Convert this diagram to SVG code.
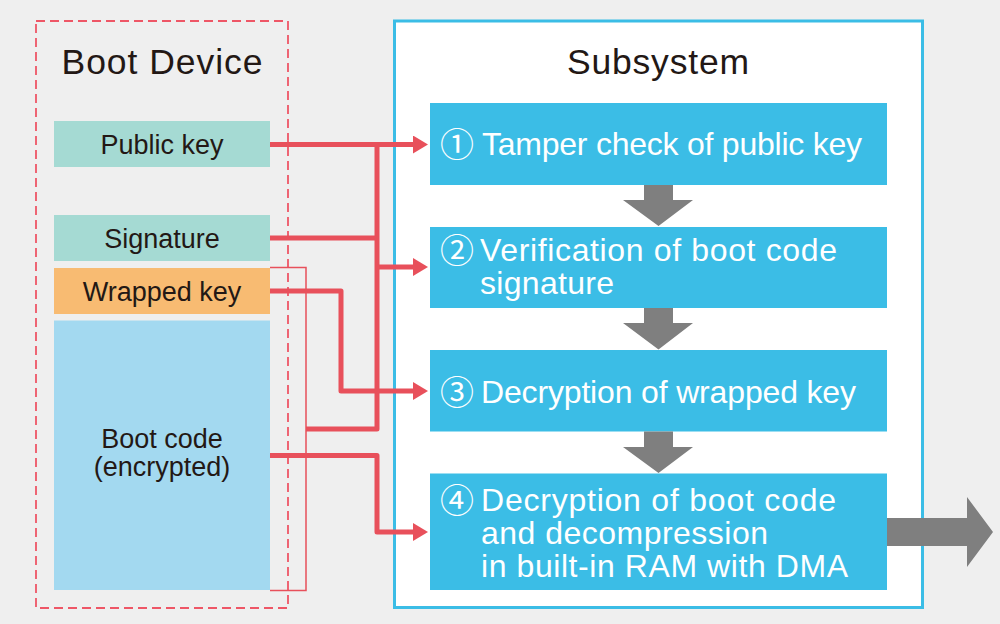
<svg xmlns="http://www.w3.org/2000/svg" width="1000" height="624" viewBox="0 0 1000 624">
<defs>
<style>
.title{font-family:"Liberation Sans",Arial,sans-serif;font-size:35.5px;fill:#231815}
.lbl{font-family:"Liberation Sans",Arial,sans-serif;font-size:27px;fill:#231815;text-anchor:middle}
.step{font-family:"Liberation Sans",Arial,sans-serif;font-size:32px;fill:#ffffff}
.num{font-family:"Noto Sans CJK JP","DejaVu Sans",sans-serif;font-size:34px;fill:#ffffff;text-anchor:middle}
.blue{fill:#3bbde6}
.gray{fill:#7f7f7f}
.conn{fill:none;stroke:#e8505b;stroke-width:5;stroke-linejoin:round}
</style>
<marker id="ah" markerUnits="userSpaceOnUse" markerWidth="16" markerHeight="20" refX="1" refY="9" orient="auto">
<polygon points="0,0 15,9 0,18" fill="#e8505b"/>
</marker>
</defs>
<rect x="0" y="0" width="1000" height="624" fill="#efefef"/>

<g id="boot-device">
<rect x="36" y="21" width="252" height="587" fill="none" stroke="#ee5666" stroke-width="1.8" stroke-dasharray="9,5"/>
<text class="title" x="61.5" y="74" textLength="201" lengthAdjust="spacing">Boot Device</text>
</g>

<g id="bracket">
<path d="M270,267.5 H306 V590.5 H270" fill="none" stroke="#e8505b" stroke-width="1.5"/>
</g>

<g id="public-key">
<rect x="54" y="121" width="216" height="46" fill="#a5dad3"/>
<text class="lbl" x="162" y="154">Public key</text>
</g>
<g id="signature">
<rect x="54" y="215" width="216" height="46" fill="#a5dad3"/>
<text class="lbl" x="162" y="248">Signature</text>
</g>
<g id="wrapped-key">
<rect x="54" y="268" width="216" height="46" fill="#f8bb72"/>
<text class="lbl" x="162" y="301">Wrapped key</text>
</g>
<g id="boot-code">
<rect x="54" y="320.5" width="216" height="269.5" fill="#a3d9f0"/>
<text class="lbl" x="162" y="448">Boot code</text>
<text class="lbl" x="162" y="476">(encrypted)</text>
</g>

<g id="subsystem">
<rect x="394.5" y="21" width="528" height="586.5" fill="#ffffff" stroke="#3bbde6" stroke-width="3"/>
<text class="title" x="567" y="74" textLength="182" lengthAdjust="spacing">Subsystem</text>
</g>

<g id="step1">
<rect class="blue" x="430" y="103" width="457" height="82"/>
<text class="num" x="457" y="157">①</text>
<text class="step" x="482" y="155" textLength="380" lengthAdjust="spacing">Tamper check of public key</text>
</g>
<g id="step2">
<rect class="blue" x="430" y="227" width="457" height="81"/>
<text class="num" x="457" y="263">②</text>
<text class="step" x="480" y="261" textLength="357" lengthAdjust="spacing">Verification of boot code</text>
<text class="step" x="480" y="294" textLength="134" lengthAdjust="spacing">signature</text>
</g>
<g id="step3">
<rect class="blue" x="430" y="350" width="457" height="81.5"/>
<text class="num" x="457" y="405">③</text>
<text class="step" x="481" y="403" textLength="375" lengthAdjust="spacing">Decryption of wrapped key</text>
</g>
<g id="step4">
<rect class="blue" x="430" y="473.5" width="457" height="116.5"/>
<text class="num" x="457" y="513">④</text>
<text class="step" x="481" y="511" textLength="355" lengthAdjust="spacing">Decryption of boot code</text>
<text class="step" x="481" y="544" textLength="287" lengthAdjust="spacing">and decompression</text>
<text class="step" x="481" y="577" textLength="367" lengthAdjust="spacing">in built-in RAM with DMA</text>
</g>

<g id="connectors">
<path class="conn" d="M270,144.5 H414" marker-end="url(#ah)"/>
<path class="conn" d="M377,144.5 V429 H306"/>
<path class="conn" d="M270,238 H377"/>
<path class="conn" d="M377,267 H414" marker-end="url(#ah)"/>
<path class="conn" d="M270,291 H341 V391 H414" marker-end="url(#ah)"/>
<path class="conn" d="M270,455.5 H377 V532 H414" marker-end="url(#ah)"/>
<polygon class="gray" points="644,185 673,185 673,200 693,200 658.5,226 623,200 644,200"/>
<polygon class="gray" points="644,308 673,308 673,323 693,323 658.5,349.5 623,323 644,323"/>
<polygon class="gray" points="644,431.5 673,431.5 673,447 693,447 658.5,473 623,447 644,447"/>
<polygon class="gray" points="887,518 967,518 967,497 993,532 967,567 967,546 887,546"/>
</g>
</svg>
